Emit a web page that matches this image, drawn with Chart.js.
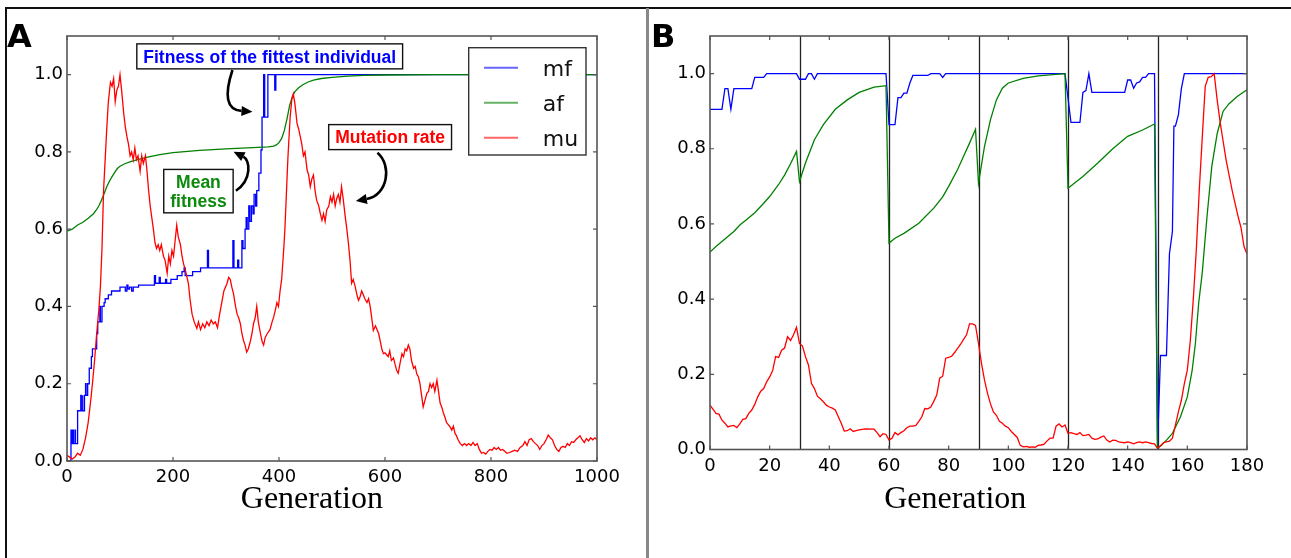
<!DOCTYPE html>
<html>
<head>
<meta charset="utf-8">
<script src="https://cdn.jsdelivr.net/npm/chart.js@4.4.1/dist/chart.umd.min.js"></script>
<style>
  html, body { margin: 0; padding: 0; background: #fff; }
  body { width: 1291px; height: 558px; position: relative; overflow: hidden; }
  .rule { position: absolute; }
</style>
</head>
<body>
<div class="rule" style="left:5px;top:7px;width:1286px;height:2px;background:#111"></div>
<div class="rule" style="left:5px;top:7px;width:2px;height:551px;background:#111"></div>
<div class="rule" style="left:646px;top:8px;width:3px;height:550px;background:#888"></div>
<canvas id="chartA" width="646" height="558" style="position:absolute;left:0;top:0"></canvas>
<canvas id="chartB" width="642" height="558" style="position:absolute;left:649px;top:0"></canvas>
<script>
// ---- panel A: 1000 generations, [generation, value] ----
const aMf = [
  [0,0],[7.5,0],[7.5,0.08],[9,0.08],[9,0.045],[11,0.045],[11,0.08],[12,0.08],[12,0.045],[15,0.045],[15,0.08],[16,0.08],[16,0.045],
  [20,0.045],[20,0.13],[26,0.13],[26,0.17],[27,0.17],[27,0.13],[29,0.13],[29,0.17],[30,0.17],[30,0.13],[33,0.13],[33,0.17],
  [35,0.17],[35,0.2],[36,0.2],[36,0.17],[39,0.17],[39,0.2],[42,0.2],[42,0.24],[46,0.24],[46,0.27],[48,0.27],[48,0.29],
  [56,0.29],[56,0.33],[58,0.33],[58,0.36],[62,0.36],[62,0.4],[63,0.4],[63,0.36],[66,0.36],[66,0.4],[70,0.4],[70,0.41],
  [72,0.41],[72,0.42],[78,0.42],[78,0.43],[84,0.43],[84,0.44],[100,0.44],[100,0.45],[110,0.45],[110,0.44],[113,0.44],
  [113,0.455],[115,0.455],[115,0.445],[118,0.445],[118,0.45],[122,0.45],[122,0.44],[125,0.44],[125,0.45],[135,0.45],
  [135,0.455],[165,0.455],[165,0.48],[167,0.48],[167,0.46],[174,0.46],[174,0.475],[176,0.475],[176,0.46],[186,0.46],
  [186,0.47],[188,0.47],[188,0.46],[196,0.46],[196,0.47],[208,0.47],[208,0.48],[217,0.48],[217,0.49],[221,0.49],[221,0.5],
  [223,0.5],[223,0.48],[237,0.48],[237,0.49],[252,0.49],[252,0.5],[265,0.5],[265,0.545],[267,0.545],[267,0.5],[313,0.5],
  [313,0.57],[315,0.57],[315,0.5],[322,0.5],[322,0.52],[324,0.52],[324,0.5],[330,0.5],[330,0.57],[332,0.57],[332,0.55],
  [336,0.55],[336,0.6],[338,0.6],[338,0.63],[340,0.63],[340,0.6],[343,0.6],[343,0.66],[345,0.66],[345,0.62],[348,0.62],
  [348,0.66],[351,0.66],[351,0.64],[353,0.64],[353,0.69],[356,0.69],[356,0.66],[358,0.66],[358,0.7],[362,0.7],[362,0.745],
  [366,0.745],[366,0.805],[368,0.805],[368,0.89],[371,0.89],[371,1.0],[373,1.0],[373,0.89],[379,0.89],[379,1.0],
  [392,1.0],[392,0.96],[394,0.96],[394,1.0],[1000,1.0]
]
const aAf = [
  [0,0.595],[10,0.6],[20,0.611],[30,0.618],[40,0.628],[50,0.64],[55,0.649],[60,0.66],[65,0.675],[70,0.692],[75,0.71],
  [80,0.724],[85,0.736],[90,0.747],[95,0.757],[100,0.763],[110,0.77],[120,0.775],[130,0.779],[150,0.786],[175,0.793],
  [200,0.798],[250,0.804],[300,0.808],[350,0.811],[380,0.813],[390,0.815],[395,0.818],[400,0.824],[405,0.835],[410,0.855],
  [415,0.885],[420,0.92],[425,0.943],[430,0.956],[437,0.966],[445,0.974],[455,0.981],[465,0.986],[480,0.99],[500,0.993],
  [530,0.996],[560,0.998],[600,0.999],[700,1.0],[1000,1.0]
]
const aMu = [
  [0,0.015],[5,0.01],[10,0.005],[15,0.01],[20,0.02],[25,0.015],[30,0.03],[35,0.06],[40,0.1],[45,0.16],[48,0.2],[52,0.26],
  [56,0.33],[60,0.39],[63,0.45],[66,0.55],[69,0.7],[72,0.78],[75,0.86],[78,0.93],[82,0.98],[85,0.97],[88,0.99],[91,0.93],
  [94,0.96],[97,0.97],[100,1.0],[103,0.96],[107,0.9],[110,0.865],[113,0.84],[116,0.82],[119,0.79],[122,0.8],[125,0.78],
  [128,0.81],[131,0.78],[134,0.79],[138,0.75],[141,0.79],[144,0.77],[148,0.79],[151,0.75],[154,0.7],[157,0.66],[160,0.63],
  [163,0.6],[166,0.565],[169,0.55],[172,0.56],[175,0.545],[178,0.56],[182,0.53],[185,0.52],[189,0.486],[192,0.53],
  [195,0.51],[198,0.545],[201,0.53],[204,0.57],[207,0.61],[210,0.58],[214,0.56],[217,0.53],[220,0.51],[224,0.49],
  [229,0.46],[232,0.42],[236,0.38],[240,0.36],[245,0.343],[248,0.36],[252,0.34],[256,0.355],[260,0.345],[264,0.36],
  [268,0.35],[272,0.365],[276,0.355],[280,0.36],[284,0.345],[288,0.38],[292,0.41],[296,0.44],[302,0.46],[305,0.475],
  [308,0.47],[311,0.45],[314,0.434],[318,0.4],[321,0.38],[324,0.37],[327,0.356],[330,0.33],[333,0.312],[336,0.3],
  [339,0.282],[342,0.29],[346,0.31],[349,0.33],[352,0.356],[355,0.37],[358,0.4],[361,0.36],[365,0.33],[368,0.31],
  [371,0.3],[374,0.32],[378,0.33],[383,0.34],[387,0.36],[390,0.373],[393,0.39],[396,0.41],[399,0.4],[402,0.44],[405,0.47],
  [407,0.51],[409,0.55],[411,0.597],[413,0.66],[415,0.727],[417,0.79],[419,0.84],[421,0.89],[424,0.934],[427,0.95],
  [430,0.925],[432,0.9],[434,0.874],[437,0.86],[440,0.84],[443,0.82],[446,0.79],[449,0.8],[453,0.753],[456,0.74],
  [459,0.71],[462,0.73],[465,0.74],[468,0.7],[471,0.675],[475,0.66],[478,0.64],[481,0.623],[484,0.64],[487,0.62],
  [490,0.65],[494,0.66],[497,0.684],[500,0.67],[503,0.69],[506,0.66],[509,0.68],[512,0.69],[515,0.67],[518,0.71],
  [521,0.68],[525,0.632],[528,0.6],[531,0.563],[534,0.52],[537,0.46],[540,0.47],[544,0.45],[547,0.43],[550,0.416],
  [553,0.425],[556,0.44],[559,0.43],[562,0.42],[566,0.41],[569,0.42],[572,0.4],[575,0.37],[578,0.338],[582,0.35],
  [585,0.34],[588,0.33],[591,0.31],[594,0.29],[597,0.278],[600,0.28],[603,0.275],[606,0.27],[609,0.285],[612,0.26],
  [616,0.267],[619,0.25],[622,0.235],[625,0.227],[628,0.25],[632,0.278],[635,0.27],[638,0.29],[641,0.285],[644,0.3],
  [647,0.29],[650,0.26],[654,0.24],[657,0.245],[660,0.225],[663,0.218],[666,0.2],[669,0.17],[672,0.14],[675,0.155],
  [679,0.175],[682,0.18],[685,0.2],[688,0.19],[691,0.2],[694,0.18],[698,0.209],[701,0.18],[704,0.15],[707,0.14],
  [710,0.125],[713,0.114],[716,0.1],[719,0.095],[723,0.088],[726,0.08],[729,0.09],[732,0.072],[735,0.065],[738,0.055],
  [742,0.045],[746,0.04],[750,0.045],[754,0.04],[758,0.045],[762,0.04],[766,0.048],[770,0.04],[774,0.045],[778,0.03],
  [782,0.02],[786,0.022],[790,0.018],[794,0.025],[798,0.03],[802,0.028],[806,0.035],[810,0.03],[814,0.035],[818,0.028],
  [822,0.03],[826,0.025],[830,0.02],[835,0.022],[840,0.025],[845,0.028],[850,0.025],[855,0.035],[860,0.04],[864,0.05],
  [868,0.04],[872,0.055],[876,0.058],[880,0.05],[884,0.045],[888,0.04],[892,0.03],[896,0.04],[900,0.045],[904,0.055],
  [908,0.067],[912,0.06],[916,0.055],[920,0.04],[924,0.03],[928,0.025],[932,0.035],[936,0.038],[940,0.035],[944,0.045],
  [948,0.04],[952,0.05],[956,0.048],[960,0.055],[964,0.06],[968,0.065],[972,0.055],[976,0.048],[980,0.058],[984,0.052],
  [988,0.06],[992,0.055],[996,0.06],[1000,0.055]
]

// ---- panel B: 180 generations with resets every 30 ----
const bResets = [30, 60, 90, 120, 150]
const bMf = [
  [0,0.905],[4,0.905],[5,0.96],[6,0.96],[7,0.905],[8,0.96],[14,0.96],[15,0.99],[18,0.99],[19,1.0],[29,1.0],[30,0.985],
  [32,0.985],[33,1.0],[34,1.0],[35,0.985],[36,1.0],[59,1.0],[60,0.864],[62,0.864],[63,0.936],[64,0.936],[65,0.948],
  [66,0.948],[67,0.975],[68,0.995],[73,0.995],[74,1.0],[77,1.0],[78,0.99],[79,1.0],[119,1.0],[121,0.87],[124,0.87],
  [125,0.95],[126,0.955],[127,1.0],[128,0.95],[139,0.95],[140,0.983],[141,0.983],[142,0.961],[143,0.975],[144,0.978],
  [145,0.99],[146,0.99],[147,1.0],[149,1.0],[150,0.005],[151,0.25],[153,0.25],[154,0.52],[155,0.58],[155.5,0.86],
  [156,0.86],[157,0.89],[158,0.96],[159,1.0],[180,1.0]
]
const bAf = [
  [0,0.525],[2,0.54],[5,0.56],[8,0.58],[10,0.597],[12,0.61],[15,0.63],[18,0.655],[20,0.673],[23,0.705],[25,0.73],
  [27,0.76],[29,0.793],[30,0.713],[32,0.762],[35,0.824],[38,0.864],[42,0.905],[46,0.93],[50,0.95],[55,0.964],[59,0.968],
  [60,0.549],[62,0.562],[65,0.575],[70,0.602],[75,0.642],[78,0.672],[80,0.7],[83,0.745],[85,0.78],[87,0.815],[89,0.852],
  [90,0.708],[92,0.806],[94,0.877],[96,0.93],[98,0.961],[100,0.975],[105,0.987],[110,0.994],[119,1.0],[120,0.695],
  [125,0.726],[130,0.762],[135,0.8],[140,0.833],[145,0.85],[149,0.866],[150,0.005],[151,0.009],[153,0.025],[155,0.043],
  [157.7,0.087],[160,0.14],[161.6,0.21],[162.7,0.282],[163.8,0.389],[165,0.47],[166.6,0.62],[168.2,0.753],[170,0.84],
  [172,0.9],[174,0.92],[176.7,0.939],[180,0.957]
]
const bMu = [
  [0,0.118],[2,0.096],[3,0.094],[4,0.078],[5,0.07],[6,0.06],[7,0.063],[8,0.064],[9,0.058],[10,0.068],[11,0.08],[12,0.082],
  [13,0.096],[14,0.105],[15,0.12],[16,0.14],[17,0.155],[18,0.162],[19,0.18],[20,0.193],[21,0.21],[22,0.247],[23,0.245],
  [24,0.264],[25,0.27],[26,0.3],[27,0.29],[28,0.305],[29,0.325],[30,0.282],[31,0.275],[32,0.247],[33,0.225],[34,0.176],
  [35,0.162],[36,0.142],[37,0.135],[38,0.127],[39,0.118],[40,0.113],[41,0.11],[42,0.105],[43,0.087],[44,0.07],[45,0.049],
  [46,0.05],[47,0.055],[48,0.048],[49,0.05],[50,0.052],[52,0.055],[55,0.054],[56,0.045],[57,0.034],[58,0.042],[59,0.04],
  [60,0.025],[61,0.03],[62,0.045],[63,0.039],[64,0.045],[65,0.05],[66,0.058],[67,0.062],[68,0.062],[69,0.064],[70,0.075],
  [71,0.087],[72,0.109],[73,0.108],[74,0.113],[75,0.128],[76,0.145],[77,0.19],[78,0.195],[79,0.243],[80,0.245],[81,0.248],
  [82,0.258],[83,0.269],[84,0.28],[85,0.293],[86,0.305],[87,0.334],[88,0.334],[89,0.33],[90,0.282],[91,0.229],[92,0.185],
  [93,0.15],[94,0.122],[95,0.1],[96,0.091],[97,0.075],[98,0.07],[99,0.062],[100,0.058],[101,0.048],[102,0.04],[103,0.032],
  [104,0.011],[105,0.007],[106,0.008],[107,0.006],[108,0.007],[109,0.006],[110,0.011],[111,0.012],[112,0.014],[113,0.023],
  [114,0.03],[115,0.03],[116,0.062],[117,0.068],[118,0.06],[119,0.065],[120,0.043],[121,0.045],[122,0.042],[123,0.04],
  [124,0.045],[125,0.037],[126,0.038],[127,0.04],[128,0.03],[129,0.027],[130,0.028],[131,0.033],[132,0.036],[133,0.025],
  [134,0.02],[135,0.025],[136,0.024],[137,0.02],[138,0.019],[139,0.018],[140,0.02],[141,0.018],[142,0.015],[143,0.018],
  [144,0.02],[145,0.018],[146,0.02],[147,0.018],[148,0.016],[149,0.015],[150,0.003],[151,0.01],[152,0.018],[153,0.02],
  [154,0.022],[155,0.03],[156,0.065],[157,0.1],[158,0.131],[159,0.175],[160,0.211],[161,0.29],[162,0.4],[163,0.53],
  [164,0.69],[165,0.83],[166,0.966],[167,0.99],[168,0.992],[169,1.0],[170,0.93],[171,0.87],[172,0.82],[173,0.77],
  [174,0.73],[175,0.69],[176,0.655],[177,0.62],[178,0.59],[179,0.54],[180,0.52]
]

const seriesNames = ['mf', 'af', 'mu']
const seriesColors = ['#0000ff', '#008000', '#ff0000']

Chart.defaults.font.family = "'DejaVu Sans', sans-serif"
Chart.defaults.color = '#000'

const toPts = arr => arr.map(([x, y]) => ({ x, y }))

function makeDatasets(mf, af, mu) {
  return [mf, af, mu].map((arr, i) => ({
    label: seriesNames[i],
    data: toPts(arr),
    borderColor: seriesColors[i],
    borderWidth: 1.3,
    pointRadius: 0,
    tension: 0,
    fill: false,
    order: 2 - i, // mu drawn on top
  }))
}

// frame with inward ticks on all four sides, panel letter, axis title, reset lines
const framePlugin = {
  id: 'frame',
  beforeDatasetsDraw(chart, args, opts) {
    const { ctx, chartArea: a, scales: { x } } = chart
    if (!opts.resets) return
    ctx.save()
    ctx.strokeStyle = '#222'
    ctx.lineWidth = 1.3
    ctx.beginPath()
    opts.resets.forEach(g => {
      const px = Math.round(x.getPixelForValue(g)) + 0.5
      ctx.moveTo(px, a.top)
      ctx.lineTo(px, a.bottom)
    })
    ctx.stroke()
    ctx.restore()
  },
  afterDraw(chart, args, opts) {
    const { ctx, chartArea: a, scales: { x, y } } = chart
    ctx.save()
    ctx.strokeStyle = '#555'
    ctx.lineWidth = 1.6
    ctx.strokeRect(a.left, a.top, a.width, a.height)
    ctx.lineWidth = 1.2
    ctx.beginPath()
    x.ticks.forEach(t => {
      const px = x.getPixelForValue(t.value)
      ctx.moveTo(px, a.top); ctx.lineTo(px, a.top + 4)
      ctx.moveTo(px, a.bottom); ctx.lineTo(px, a.bottom - 4)
    })
    y.ticks.forEach(t => {
      const py = y.getPixelForValue(t.value)
      ctx.moveTo(a.left, py); ctx.lineTo(a.left + 4, py)
      ctx.moveTo(a.right, py); ctx.lineTo(a.right - 4, py)
    })
    ctx.stroke()

    ctx.fillStyle = '#000'
    ctx.textBaseline = 'alphabetic'
    ctx.font = "bold 32px 'DejaVu Sans'"
    ctx.textAlign = 'left'
    ctx.fillText(opts.letter, opts.letterX, 47)

    ctx.font = "32px 'Liberation Serif'"
    ctx.textAlign = 'center'
    ctx.fillText('Generation', x.getPixelForValue(opts.titleAt), 508)
    ctx.restore()
  }
}

// panel A legend and the three boxed notes with curved arrows
const notes = [
  { lines: ['Fitness of the fittest individual'], color: '#0000ff', at: [144, 1.031], align: 'left' },
  { lines: ['Mutation rate'], color: '#ff0000', at: [506, 0.822], align: 'left' },
  { lines: ['Mean', 'fitness'], color: '#0b8a0b', at: [248, 0.706], align: 'center' },
]
const arrows = [
  [[312.2, 1.012], [296.6, 0.947], [300.4, 0.909], [350, 0.904]],
  [[318.7, 0.6995], [349.4, 0.727], [345.6, 0.779], [314.2, 0.8005]],
  [[585.7, 0.798], [613.4, 0.766], [605.9, 0.688], [545, 0.673]],
]

const notesPlugin = {
  id: 'notes',
  afterDraw(chart) {
    const { ctx, chartArea: a, scales: { x, y } } = chart
    ctx.save()

    // legend box, upper right
    const lx = a.right - 128.3, ly = a.top + 11.7
    ctx.fillStyle = '#fff'
    ctx.fillRect(lx, ly, 117.3, 107.3)
    ctx.strokeStyle = '#333'
    ctx.lineWidth = 1.4
    ctx.strokeRect(lx, ly, 117.3, 107.3)
    ctx.font = "22px 'DejaVu Sans'"
    ctx.textAlign = 'left'
    ctx.textBaseline = 'alphabetic'
    seriesNames.forEach((name, i) => {
      const ry = ly + 20 + i * 35
      ctx.globalAlpha = 0.6
      ctx.strokeStyle = seriesColors[i]
      ctx.lineWidth = 2
      ctx.beginPath()
      ctx.moveTo(lx + 15.3, ry)
      ctx.lineTo(lx + 49.3, ry)
      ctx.stroke()
      ctx.globalAlpha = 1
      ctx.fillStyle = '#111'
      ctx.fillText(name, lx + 74, ry + 8.3)
    })

    // boxed notes
    ctx.font = "bold 17.5px 'Liberation Sans'"
    notes.forEach(n => {
      const px = x.getPixelForValue(n.at[0])
      const py = y.getPixelForValue(n.at[1])
      const lh = 18.4
      const w = Math.max(...n.lines.map(s => ctx.measureText(s).width))
      const left = n.align === 'center' ? px - w / 2 : px
      const top = py - 18.8
      const bottom = py + (n.lines.length - 1) * lh + 6.2
      ctx.fillStyle = '#fff'
      ctx.fillRect(left - 6.5, top, w + 13, bottom - top)
      ctx.strokeStyle = '#111'
      ctx.lineWidth = 1.4
      ctx.strokeRect(left - 6.5, top, w + 13, bottom - top)
      ctx.fillStyle = n.color
      ctx.textAlign = n.align
      n.lines.forEach((s, i) => ctx.fillText(s, px, py + i * lh))
    })

    // curved arrows
    ctx.strokeStyle = '#000'
    ctx.fillStyle = '#000'
    ctx.lineWidth = 2.6
    arrows.forEach(pts => {
      const p = pts.map(([g, v]) => [x.getPixelForValue(g), y.getPixelForValue(v)])
      const ang = Math.atan2(p[3][1] - p[2][1], p[3][0] - p[2][0])
      const hl = 11, hw = 5
      const bx = p[3][0] - hl * Math.cos(ang), by = p[3][1] - hl * Math.sin(ang)
      ctx.beginPath()
      ctx.moveTo(p[0][0], p[0][1])
      ctx.bezierCurveTo(p[1][0], p[1][1], p[2][0], p[2][1], bx, by)
      ctx.stroke()
      ctx.beginPath()
      ctx.moveTo(p[3][0], p[3][1])
      ctx.lineTo(bx + hw * Math.sin(ang), by - hw * Math.cos(ang))
      ctx.lineTo(bx - hw * Math.sin(ang), by + hw * Math.cos(ang))
      ctx.closePath()
      ctx.fill()
    })
    ctx.restore()
  }
}

function axisOptions(xMax, xStep, yWidth) {
  return {
    x: {
      type: 'linear', min: 0, max: xMax,
      grid: { display: false, drawTicks: false },
      border: { display: false },
      ticks: { stepSize: xStep, font: { size: 18 }, color: '#000', padding: 6, maxRotation: 0, autoSkip: false,
        includeBounds: false, callback: v => String(v) },
      afterFit(scale) { scale.height = 30 },
    },
    y: {
      min: 0, max: 1.1,
      grid: { display: false, drawTicks: false },
      border: { display: false },
      ticks: { stepSize: 0.2, includeBounds: false, font: { size: 18 }, color: '#000', padding: 4, callback: v => v.toFixed(1) },
      afterFit(scale) { scale.width = yWidth },
    },
  }
}

new Chart(document.getElementById('chartA'), {
  type: 'line',
  plugins: [framePlugin, notesPlugin],
  data: { datasets: makeDatasets(aMf, aAf, aMu) },
  options: {
    responsive: false, animation: false, devicePixelRatio: 1,
    layout: { padding: { left: 0, right: 49, top: 36, bottom: 67 } },
    scales: axisOptions(1000, 200, 67),
    plugins: {
      legend: { display: false }, tooltip: { enabled: false },
      frame: { letter: 'A', letterX: 7, titleAt: 462 },
    },
  },
})

new Chart(document.getElementById('chartB'), {
  type: 'line',
  plugins: [framePlugin],
  data: { datasets: makeDatasets(bMf, bAf, bMu) },
  options: {
    responsive: false, animation: false, devicePixelRatio: 1,
    layout: { padding: { left: 0, right: 44, top: 36, bottom: 78.5 } },
    scales: axisOptions(180, 20, 61),
    plugins: {
      legend: { display: false }, tooltip: { enabled: false },
      frame: { letter: 'B', letterX: 2, titleAt: 82.2, resets: bResets },
    },
  },
})
</script>
</body>
</html>
